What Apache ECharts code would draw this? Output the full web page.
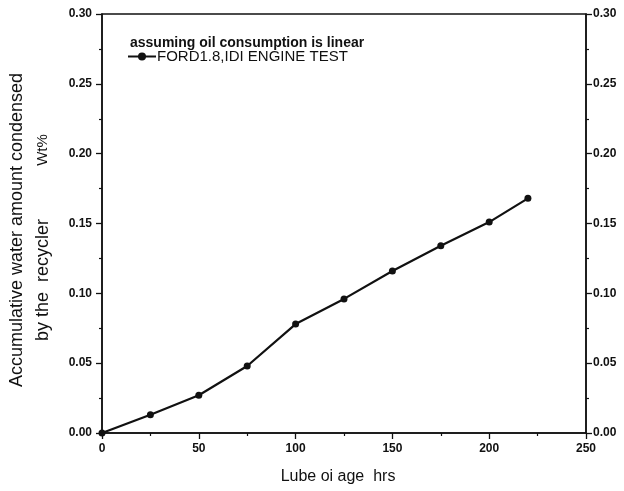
<!DOCTYPE html>
<html>
<head>
<meta charset="utf-8">
<script src="https://cdn.jsdelivr.net/npm/echarts@6/dist/echarts.min.js"></script>
<style>
  html, body { margin: 0; padding: 0; background: #fff; }
  #chart { width: 624px; height: 491px; }
</style>
</head>
<body>
<div id="chart"></div>
<script>
// lube oil age (hrs) and accumulative condensed water (Wt%)
const hours = [0, 25, 50, 75, 100, 125, 150, 175, 200, 220];
const water = [0, 0.013, 0.027, 0.048, 0.078, 0.096, 0.116, 0.134, 0.151, 0.168];
const seriesName = "FORD1.8,IDI ENGINE TEST";
const noteText = "assuming oil consumption is linear";

const font = "'Liberation Sans', Arial, sans-serif";
const black = "#111";

const chart = echarts.init(document.getElementById("chart"));

const yAxisBase = {
  type: "value",
  min: 0,
  max: 0.3,
  interval: 0.05,
  splitLine: { show: false },
  axisLine: { show: true, onZero: false, lineStyle: { color: black, width: 1.5 } },
  axisTick: { show: true, inside: false, length: 6, lineStyle: { color: black, width: 1.3 } },
  minorTick: { show: true, splitNumber: 2, length: 3, lineStyle: { color: black, width: 1.2 } },
  axisLabel: {
    color: black,
    fontFamily: font,
    fontWeight: "bold",
    fontSize: 12,
    formatter: v => v.toFixed(2)
  }
};

chart.setOption({
  animation: false,
  backgroundColor: "#fff",
  grid: {
    left: 102,
    right: 38,
    top: 14,
    bottom: 58,
    show: true,
    borderColor: black,
    borderWidth: 1.5
  },
  title: {
    text: noteText,
    left: 125,
    top: 31,
    textStyle: { fontFamily: font, fontWeight: "bold", fontSize: 14, color: black }
  },
  legend: {
    data: [seriesName],
    left: 122,
    top: 44,
    itemWidth: 28,
    itemHeight: 10,
    itemGap: 5,
    textStyle: { fontFamily: font, fontSize: 15, color: black, padding: [0, 0, 0, -4] }
  },
  xAxis: {
    type: "value",
    min: 0,
    max: 250,
    interval: 50,
    splitLine: { show: false },
    axisLine: { show: true, onZero: false, lineStyle: { color: black, width: 1.5 } },
    axisTick: { show: true, length: 6, lineStyle: { color: black, width: 1.3 } },
    minorTick: { show: true, splitNumber: 2, length: 3, lineStyle: { color: black, width: 1.2 } },
    axisLabel: { color: black, fontFamily: font, fontWeight: "bold", fontSize: 12, margin: 10 },
    name: "Lube oi age  hrs",
    nameLocation: "middle",
    nameGap: 36,
    nameTextStyle: { fontFamily: font, fontSize: 16, color: black, padding: [0, 12, 0, 0] }
  },
  yAxis: [
    Object.assign({}, yAxisBase, {
      position: "left",
      axisLabel: Object.assign({}, yAxisBase.axisLabel, { margin: 10 })
    }),
    Object.assign({}, yAxisBase, {
      position: "right",
      axisLabel: Object.assign({}, yAxisBase.axisLabel, { margin: 7 })
    })
  ],
  graphic: [
    {
      type: "text",
      x: 17,
      y: 230,
      rotation: Math.PI / 2,
      style: {
        text: "Accumulative water amount condensed",
        font: "18px " + font,
        fill: black,
        align: "center",
        verticalAlign: "middle"
      }
    },
    {
      type: "text",
      x: 43,
      y: 280,
      rotation: Math.PI / 2,
      style: {
        text: "by the  recycler",
        font: "18px " + font,
        fill: black,
        align: "center",
        verticalAlign: "middle"
      }
    },
    {
      type: "text",
      x: 43,
      y: 150,
      rotation: Math.PI / 2,
      style: {
        text: "Wt%",
        font: "15px " + font,
        fill: black,
        align: "center",
        verticalAlign: "middle"
      }
    }
  ],
  series: [
    {
      name: seriesName,
      type: "line",
      data: hours.map((h, i) => [h, water[i]]),
      symbol: "circle",
      symbolSize: 7,
      lineStyle: { color: black, width: 2.2 },
      itemStyle: { color: black }
    }
  ]
});
</script>
</body>
</html>
